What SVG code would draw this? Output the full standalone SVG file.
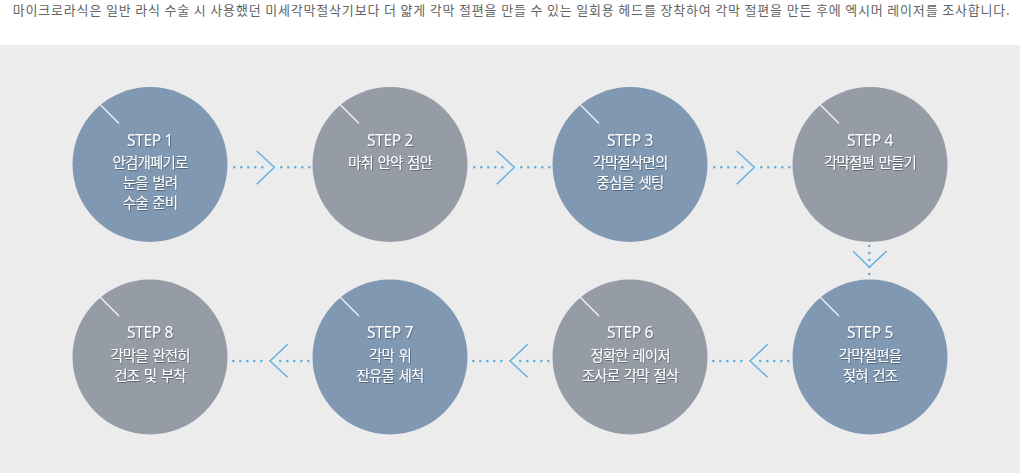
<svg xmlns="http://www.w3.org/2000/svg" width="1020" height="473" viewBox="0 0 1020 473">
<defs>
<style>
.intro{font-family:"Noto Sans CJK KR","Noto Sans",sans-serif;font-size:13px;fill:#636363}
.blue{fill:#8198b3}
.gray{fill:#969ca5}
.tick{stroke:#ffffff;stroke-width:1.2;opacity:0.9}
.step{font-family:"Noto Sans","Noto Sans CJK KR",sans-serif;font-size:15.5px;fill:#ffffff;text-anchor:middle;letter-spacing:-0.3px}
.lbl{font-family:"Noto Sans","Noto Sans CJK KR",sans-serif;font-size:14.5px;fill:#ffffff;text-anchor:middle;letter-spacing:-0.8px;word-spacing:1.5px}
.dots{stroke:#5dafe2;stroke-width:2.6;stroke-linecap:round;stroke-dasharray:0 7;fill:none}
.chev{stroke:#5dafe2;stroke-width:1.4;fill:none}
</style>
<filter id="sh" x="-20%" y="-20%" width="140%" height="160%">
<feDropShadow dx="0.8" dy="1" stdDeviation="0.6" flood-color="#2a3440" flood-opacity="0.5"/>
</filter>
</defs>
<rect x="0" y="0" width="1020" height="473" fill="#ffffff"/>
<rect x="0" y="45" width="1020" height="428" fill="#ececec"/>
<text class="intro" x="12.7" y="15" textLength="997" lengthAdjust="spacing">마이크로라식은 일반 라식 수술 시 사용했던 미세각막절삭기보다 더 얇게 각막 절편을 만들 수 있는 일회용 헤드를 장착하여 각막 절편을 만든 후에 엑시머 레이저를 조사합니다.</text>

<g id="connectors">
<line class="dots" x1="234.3" y1="167.3" x2="262.4" y2="167.3"/>
<polyline class="chev" points="256.7,151 274.3,167.3 256.7,184.3"/>
<line class="dots" x1="281.3" y1="167.3" x2="309.4" y2="167.3"/>
<line class="dots" x1="474.3" y1="167.3" x2="502.4" y2="167.3"/>
<polyline class="chev" points="496.7,151 514.3,167.3 496.7,184.3"/>
<line class="dots" x1="521.3" y1="167.3" x2="549.4" y2="167.3"/>
<line class="dots" x1="714.3" y1="167.3" x2="742.4" y2="167.3"/>
<polyline class="chev" points="736.7,151 754.3,167.3 736.7,184.3"/>
<line class="dots" x1="761.3" y1="167.3" x2="789.4" y2="167.3"/>
<line class="dots" x1="869.3" y1="246" x2="869.3" y2="274.1"/>
<polyline class="chev" points="853,251 869.3,267.3 886.7,251"/>
<line class="dots" x1="713.3" y1="361" x2="741.4" y2="361"/>
<polyline class="chev" points="767.7,344.3 750,361 767.7,377.3"/>
<line class="dots" x1="760.3" y1="361" x2="788.4" y2="361"/>
<line class="dots" x1="473.3" y1="361" x2="501.4" y2="361"/>
<polyline class="chev" points="527.7,344.3 510,361 527.7,377.3"/>
<line class="dots" x1="520.3" y1="361" x2="548.4" y2="361"/>
<line class="dots" x1="233.3" y1="361" x2="261.4" y2="361"/>
<polyline class="chev" points="287.7,344.3 270,361 287.7,377.3"/>
<line class="dots" x1="280.3" y1="361" x2="308.4" y2="361"/>
</g>

<g id="step1">
<circle class="blue" cx="150" cy="164.5" r="77.5"/>
<line class="tick" x1="100" y1="104.5" x2="119" y2="123.5"/>
<g filter="url(#sh)">
<text class="step" x="150" y="145.5">STEP 1</text>
<text class="lbl" x="150" y="168">안검개폐기로</text>
<text class="lbl" x="150" y="188">눈을 벌려</text>
<text class="lbl" x="150" y="208">수술 준비</text>
</g>
</g>
<g id="step2">
<circle class="gray" cx="390" cy="164.5" r="77.5"/>
<line class="tick" x1="340" y1="104.5" x2="359" y2="123.5"/>
<g filter="url(#sh)">
<text class="step" x="390" y="145.5">STEP 2</text>
<text class="lbl" x="390" y="168">마취 안약 점안</text>
</g>
</g>
<g id="step3">
<circle class="blue" cx="630" cy="164.5" r="77.5"/>
<line class="tick" x1="580" y1="104.5" x2="599" y2="123.5"/>
<g filter="url(#sh)">
<text class="step" x="630" y="145.5">STEP 3</text>
<text class="lbl" x="630" y="168">각막절삭면의</text>
<text class="lbl" x="630" y="188">중심을 셋팅</text>
</g>
</g>
<g id="step4">
<circle class="gray" cx="870" cy="164.5" r="77.5"/>
<line class="tick" x1="820" y1="104.5" x2="839" y2="123.5"/>
<g filter="url(#sh)">
<text class="step" x="870" y="145.5">STEP 4</text>
<text class="lbl" x="870" y="168">각막절편 만들기</text>
</g>
</g>
<g id="step5">
<circle class="blue" cx="870" cy="357" r="77.5"/>
<line class="tick" x1="820" y1="297" x2="839" y2="316"/>
<g filter="url(#sh)">
<text class="step" x="870" y="338">STEP 5</text>
<text class="lbl" x="870" y="360.5">각막절편을</text>
<text class="lbl" x="870" y="380.5">젖혀 건조</text>
</g>
</g>
<g id="step6">
<circle class="gray" cx="630" cy="357" r="77.5"/>
<line class="tick" x1="580" y1="297" x2="599" y2="316"/>
<g filter="url(#sh)">
<text class="step" x="630" y="338">STEP 6</text>
<text class="lbl" x="630" y="360.5">정확한 레이저</text>
<text class="lbl" x="630" y="380.5">조사로 각막 절삭</text>
</g>
</g>
<g id="step7">
<circle class="blue" cx="390" cy="357" r="77.5"/>
<line class="tick" x1="340" y1="297" x2="359" y2="316"/>
<g filter="url(#sh)">
<text class="step" x="390" y="338">STEP 7</text>
<text class="lbl" x="390" y="360.5">각막 위</text>
<text class="lbl" x="390" y="380.5">잔유물 세척</text>
</g>
</g>
<g id="step8">
<circle class="gray" cx="150" cy="357" r="77.5"/>
<line class="tick" x1="100" y1="297" x2="119" y2="316"/>
<g filter="url(#sh)">
<text class="step" x="150" y="338">STEP 8</text>
<text class="lbl" x="150" y="360.5">각막을 완전히</text>
<text class="lbl" x="150" y="380.5">건조 및 부착</text>
</g>
</g>
</svg>
